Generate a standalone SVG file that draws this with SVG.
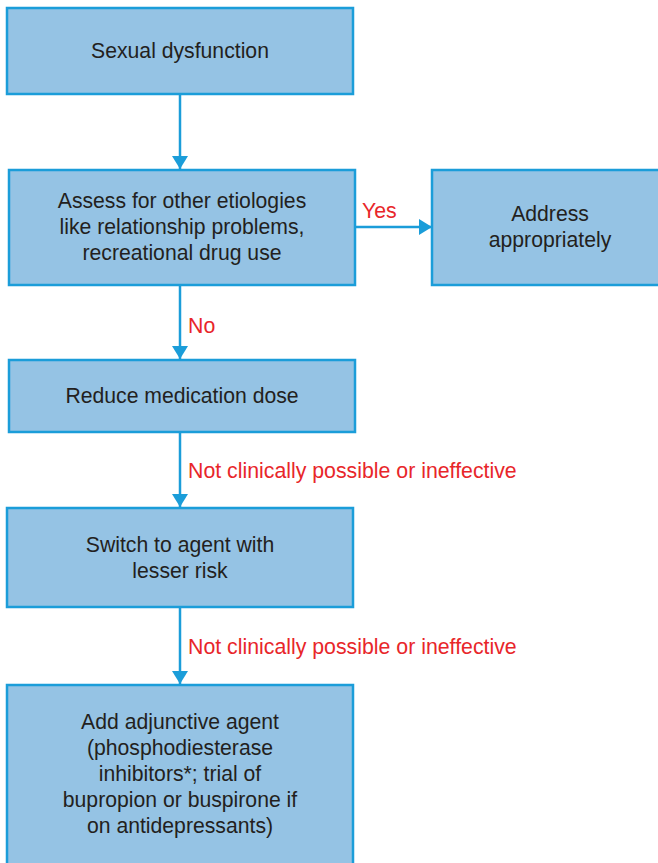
<svg xmlns="http://www.w3.org/2000/svg" width="658" height="863" viewBox="0 0 658 863">
  <style>
    .box { fill: #95c3e4; stroke: #1b9dd9; stroke-width: 2.5; }
    .txt { font-family: "Liberation Sans", Arial, sans-serif; font-size: 21.2px; fill: #231f20; text-anchor: middle; }
    .lbl { font-family: "Liberation Sans", Arial, sans-serif; font-size: 21.3px; fill: #e8262a; }
    .edge { stroke: #1b9dd9; stroke-width: 2.5; fill: none; }
  </style>
  <defs>
    <marker id="arrow" markerWidth="14" markerHeight="16" refX="13" refY="8" orient="auto" markerUnits="userSpaceOnUse">
      <path d="M0,0 L13,8 L0,16 Z" fill="#1b9dd9"/>
    </marker>
  </defs>
  <rect width="658" height="863" fill="#ffffff"/>

  <g id="connectors">
    <line class="edge" x1="180" y1="94" x2="180" y2="169" marker-end="url(#arrow)"/>
    <line class="edge" x1="355" y1="227" x2="432" y2="227" marker-end="url(#arrow)"/>
    <line class="edge" x1="180" y1="285" x2="180" y2="359" marker-end="url(#arrow)"/>
    <line class="edge" x1="180" y1="432" x2="180" y2="507" marker-end="url(#arrow)"/>
    <line class="edge" x1="180" y1="607" x2="180" y2="684" marker-end="url(#arrow)"/>
    <text class="lbl" x="362" y="218">Yes</text>
    <text class="lbl" x="188" y="333">No</text>
    <text class="lbl" x="188" y="478">Not clinically possible or ineffective</text>
    <text class="lbl" x="188" y="654">Not clinically possible or ineffective</text>
  </g>

  <g id="sexual-dysfunction">
    <rect class="box" x="7" y="8" width="346" height="86"/>
    <text class="txt" x="180" y="58">Sexual dysfunction</text>
  </g>

  <g id="assess-etiologies">
    <rect class="box" x="9" y="170" width="346" height="115"/>
    <text class="txt" x="182" y="208">Assess for other etiologies</text>
    <text class="txt" x="182" y="234">like relationship problems,</text>
    <text class="txt" x="182" y="260">recreational drug use</text>
  </g>

  <g id="address-appropriately">
    <rect class="box" x="432" y="170" width="240" height="115"/>
    <text class="txt" x="550" y="221">Address</text>
    <text class="txt" x="550" y="247">appropriately</text>
  </g>

  <g id="reduce-dose">
    <rect class="box" x="9" y="360" width="346" height="72"/>
    <text class="txt" x="182" y="403">Reduce medication dose</text>
  </g>

  <g id="switch-agent">
    <rect class="box" x="7" y="508" width="346" height="99"/>
    <text class="txt" x="180" y="552">Switch to agent with</text>
    <text class="txt" x="180" y="578">lesser risk</text>
  </g>

  <g id="adjunctive-agent">
    <rect class="box" x="7" y="685" width="346" height="190"/>
    <text class="txt" x="180" y="729">Add adjunctive agent</text>
    <text class="txt" x="180" y="755">(phosphodiesterase</text>
    <text class="txt" x="180" y="781">inhibitors*; trial of</text>
    <text class="txt" x="180" y="807">bupropion or buspirone if</text>
    <text class="txt" x="180" y="833">on antidepressants)</text>
  </g>
</svg>
